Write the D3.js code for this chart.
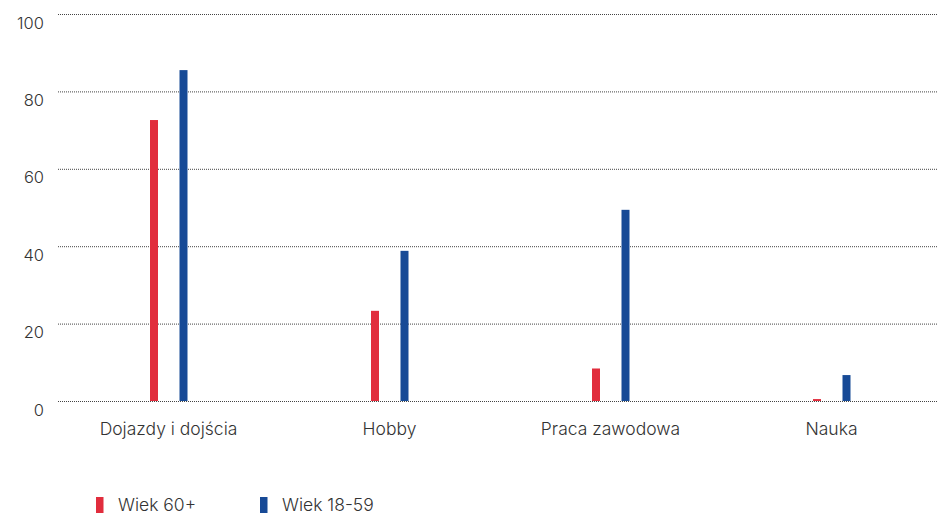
<!DOCTYPE html>
<html><head><meta charset="utf-8">
<script src="https://cdn.jsdelivr.net/npm/d3@7"></script>
<style>body{margin:0;background:#fff;} svg{display:block;font-family:Inter, "Open Sans", sans-serif;font-weight:300;}</style>
</head><body>
<script>
const categories = ["Dojazdy i dojścia", "Hobby", "Praca zawodowa", "Nauka"];
const seriesNames = ["Wiek 60+", "Wiek 18-59"];
const senior = [72.6, 23.3, 8.4, 0.5];
const adult = [85.5, 38.8, 49.4, 6.7];
const yTicks = [0, 20, 40, 60, 80, 100];
const colors = ["#e12d3d", "#174a96"];

const W = 937, H = 513;
const svg = d3.select("body").append("svg").attr("width", W).attr("height", H);

const x = d3.scaleBand().domain(categories).range([58, 942]);
const y = d3.scaleLinear().domain([0, 100]).range([401, 14]);
const sub = d3.scaleOrdinal().domain(seriesNames).range([-14.5, 15]);
const barW = 8;

// gridlines
svg.append("g").selectAll("line").data(yTicks).join("line")
  .attr("x1", 58).attr("x2", W).attr("y1", d => y(d) + 0.5).attr("y2", d => y(d) + 0.5)
  .attr("stroke", "#444").attr("stroke-width", 1).attr("stroke-dasharray", "1,1");

// y labels
svg.append("g").selectAll("text").data(yTicks).join("text")
  .attr("x", 44).attr("y", d => y(d) + 14.5)
  .attr("text-anchor", "end").attr("font-size", 16.5).attr("fill", "#333")
  .text(d => d);

// bars
const data = categories.map((c, i) => ({c, vals: [senior[i], adult[i]]}));
const groups = svg.append("g").selectAll("g").data(data).join("g");
groups.selectAll("rect").data(d => d.vals.map((v, j) => ({c: d.c, v, s: seriesNames[j], j}))).join("rect")
  .attr("x", d => x(d.c) + x.bandwidth() / 2 + sub(d.s) - barW / 2)
  .attr("width", barW)
  .attr("y", d => y(d.v))
  .attr("height", d => y(0) - y(d.v))
  .attr("fill", d => colors[d.j]);

// category labels
svg.append("g").selectAll("text").data(categories).join("text")
  .attr("x", d => x(d) + x.bandwidth() / 2)
  .attr("y", 435)
  .attr("text-anchor", "middle").attr("font-size", 17.5).attr("fill", "#333")
  .text(d => d);

// legend
const legX = [96, 260];
const leg = svg.append("g").selectAll("g").data(seriesNames).join("g")
  .attr("transform", (d, i) => `translate(${legX[i]},497)`);
leg.append("rect").attr("width", 7.5).attr("height", 16).attr("fill", (d, i) => colors[i]);
leg.append("text").attr("x", 22).attr("y", 13.5).attr("font-size", 17.5).attr("fill", "#333").text(d => d);
</script>
</body></html>
